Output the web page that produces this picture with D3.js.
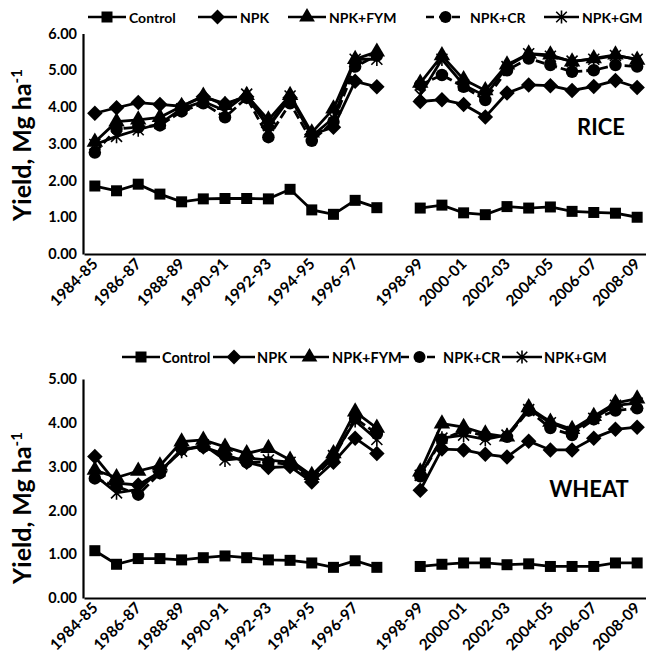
<!DOCTYPE html>
<html><head><meta charset="utf-8">
<script src="https://cdn.jsdelivr.net/npm/d3@7"></script>
<style>
body{margin:0;background:#fff}
svg{display:block}
text{font-family:Lato,"Open Sans",sans-serif;font-weight:bold;fill:#000}
</style>
</head><body>
<svg id="c" width="646" height="655"></svg>
<script>
// ---- data ----
const categories = ["1984-85","1985-86","1986-87","1987-88","1988-89","1989-90","1990-91","1991-92","1992-93","1993-94","1994-95","1995-96","1996-97","1997-98","gap","1998-99","1999-00","2000-01","2001-02","2002-03","2003-04","2004-05","2005-06","2006-07","2007-08","2008-09"];
const tickLabels = ["1984-85","1986-87","1988-89","1990-91","1992-93","1994-95","1996-97","1998-99","2000-01","2002-03","2004-05","2006-07","2008-09"];
const seriesNames = ["Control","NPK","NPK+FYM","NPK+CR","NPK+GM"];

const riceControl = [1.85,1.72,1.90,1.63,1.42,1.50,1.51,1.51,1.50,1.76,1.20,1.08,1.46,1.26,null,1.25,1.33,1.12,1.07,1.29,1.25,1.28,1.16,1.13,1.11,1.00];
const riceNPK     = [3.83,3.98,4.12,4.07,4.02,4.28,4.09,4.28,3.45,4.25,3.25,3.45,4.70,4.55,null,4.15,4.20,4.07,3.73,4.38,4.60,4.58,4.45,4.56,4.72,4.53];
const riceFYM     = [3.05,3.60,3.65,3.72,4.02,4.30,4.05,4.32,3.65,4.32,3.30,3.95,5.30,5.50,null,4.65,5.40,4.75,4.45,5.15,5.45,5.42,5.23,5.32,5.42,5.28];
const riceCR      = [2.76,3.40,3.45,3.50,3.88,4.10,3.72,4.25,3.18,4.10,3.08,3.60,5.10,5.40,null,4.60,4.87,4.55,4.19,5.00,5.32,5.14,4.96,5.00,5.14,5.10];
const riceGM      = [2.98,3.20,3.38,3.55,3.95,4.15,3.90,4.35,3.50,4.30,3.20,3.70,5.30,5.30,null,4.33,5.30,4.60,4.30,5.10,5.45,5.38,5.25,5.30,5.40,5.30];

const wheatControl = [1.08,0.77,0.90,0.90,0.87,0.92,0.96,0.92,0.87,0.86,0.80,0.70,0.85,0.70,null,0.72,0.77,0.80,0.80,0.76,0.78,0.72,0.72,0.72,0.80,0.80];
const wheatNPK     = [3.23,2.62,2.58,2.88,3.40,3.45,3.28,3.10,2.98,3.00,2.65,3.10,3.65,3.30,null,2.46,3.40,3.38,3.28,3.22,3.58,3.38,3.38,3.65,3.85,3.90];
const wheatFYM     = [2.92,2.75,2.90,3.02,3.57,3.61,3.45,3.30,3.42,3.15,2.80,3.30,4.25,3.88,null,2.88,3.98,3.90,3.75,3.68,4.35,4.02,3.85,4.15,4.45,4.55];
const wheatCR      = [2.73,2.55,2.36,2.85,3.40,3.45,3.25,3.10,3.10,3.05,2.72,3.20,4.10,3.75,null,2.78,3.62,3.82,3.70,3.68,4.28,3.88,3.72,4.08,4.28,4.33];
const wheatGM      = [2.80,2.40,2.48,2.90,3.35,3.50,3.15,3.20,3.15,3.10,2.75,3.25,4.05,3.62,null,2.80,3.65,3.72,3.62,3.72,4.30,4.00,3.80,4.10,4.40,4.45];

const riceTicks = [0,1,2,3,4,5,6];
const wheatTicks = [0,1,2,3,4,5];

// ---- drawing ----
const svg = d3.select("#c");
const markerKinds = ["square","diamond","triangle","circle","star"];

function markerPath(kind, s) {
  if (kind === "square") return d3.symbol(d3.symbolSquare, s*s)();
  if (kind === "diamond") { const h = s*0.62; return `M0,${-h}L${h},0L0,${h}L${-h},0Z`; }
  if (kind === "triangle") return d3.symbol(d3.symbolTriangle, s*s*0.75)();
  if (kind === "circle") return d3.symbol(d3.symbolCircle, Math.PI*(s/2)*(s/2))();
  if (kind === "star") { const h = s*0.55, d = h*0.8;
    return `M${-d},${-d}L${d},${d}M${-d},${d}L${d},${-d}M0,${-h}L0,${h}`; }
}
function drawMarker(g, kind, x, y, s) {
  const p = g.append("path").attr("d", markerPath(kind, s)).attr("transform", `translate(${x},${y})`);
  if (kind === "star") p.attr("fill","none").attr("stroke","#000").attr("stroke-width",1.6);
  else p.attr("fill","#000");
}

const x = d3.scaleBand().domain(categories).range([84, 648]).padding(0);
const cx = c => x(c) + x.bandwidth()/2;

function panel(cfg) {
  const g = svg.append("g");
  const y = d3.scaleLinear().domain([0, cfg.max]).range([cfg.bottom, cfg.top]);
  // y axis
  const ya = g.append("g").attr("transform", `translate(${x.range()[0]-1},0)`)
    .call(d3.axisLeft(y).tickValues(cfg.ticks).tickFormat(d3.format(".2f")).tickSize(0).tickPadding(6));
  ya.select(".domain").attr("stroke","#000").attr("stroke-width",2.2);
  ya.selectAll("text").style("font-size","14.5px").style("font-family","Lato").style("font-weight","bold");
  // x axis
  const xa = g.append("g").attr("transform", `translate(0,${cfg.bottom})`)
    .call(d3.axisBottom(x).tickValues([]).tickSize(0));
  xa.select(".domain").attr("stroke","#000").attr("stroke-width",2.2);
  g.selectAll(".xl").data(tickLabels).join("text")
    .attr("text-anchor","end")
    .attr("transform", d => `translate(${cx(d)+4},${cfg.bottom+11}) rotate(-45)`)
    .style("font-size","15.5px")
    .text(d => d);
  // series
  const line = d3.line().defined(d => d.v != null).x(d => cx(d.c)).y(d => y(d.v));
  cfg.series.forEach((vals, i) => {
    const pts = categories.map((c, j) => ({c, v: vals[j]}));
    g.append("path").attr("d", line(pts)).attr("fill","none").attr("stroke","#000")
      .attr("stroke-width",2.8).attr("stroke-dasharray", i === 3 ? "9,4" : null);
    pts.filter(d => d.v != null).forEach(d => drawMarker(g, markerKinds[i], cx(d.c), y(d.v), i===0?11:12.5));
  });
  // y title
  const t = g.append("text").attr("text-anchor","middle")
    .attr("transform", `translate(${cfg.titleX},${cfg.titleY}) rotate(-90)`)
    .style("font-size","25px");
  t.append("tspan").text("Yield, Mg ha");
  t.append("tspan").attr("dy",-9).style("font-size","15px").text("-1");
  // crop label
  g.append("text").attr("x", cfg.labelX).attr("y", cfg.labelY).attr("text-anchor","middle")
    .style("font-size","22px").text(cfg.label);
  // legend
  const lg = g.append("g");
  cfg.legend.forEach((it, i) => {
    lg.append("line").attr("x1", it[0]).attr("x2", it[1]).attr("y1", cfg.legY).attr("y2", cfg.legY)
      .attr("stroke","#000").attr("stroke-width",2.6).attr("stroke-dasharray", i===3 ? "8,5" : null);
    drawMarker(lg, markerKinds[i], (it[0]+it[1])/2, cfg.legY, i===0?11:12);
    lg.append("text").attr("x", it[2]).attr("y", cfg.legY+5.5).style("font-size", cfg.legFont).text(seriesNames[i]);
  });
}

panel({top:33.5, bottom:254, max:6, ticks:riceTicks,
  series:[riceControl,riceNPK,riceFYM,riceCR,riceGM],
  titleX:31, titleY:145, label:"RICE", labelX:601, labelY:135,
  legY:17, legFont:"14px",
  legend:[[88,126,129],[198,237,240],[288,326,329],[426,465,470],[544,579,582]]});

panel({top:379, bottom:598, max:5, ticks:wheatTicks,
  series:[wheatControl,wheatNPK,wheatFYM,wheatCR,wheatGM],
  titleX:31, titleY:508, label:"WHEAT", labelX:589, labelY:497,
  legY:357, legFont:"14.5px",
  legend:[[122,160,162],[213,255,257],[290,329,332],[401,438,443],[502,542,544]]});
</script>
</body></html>
